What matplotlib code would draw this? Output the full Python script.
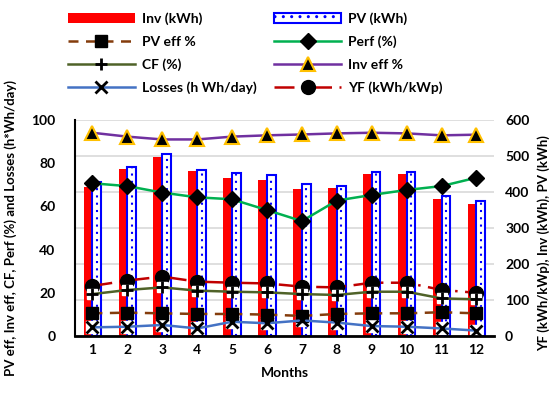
import numpy as np
import matplotlib
matplotlib.use("Agg")
import matplotlib.pyplot as plt
from matplotlib.patches import Patch

plt.rcParams['font.family'] = ['Lato', 'DejaVu Sans']
plt.rcParams['font.weight'] = 'bold'
plt.rcParams['hatch.color'] = 'blue'
plt.rcParams['hatch.linewidth'] = 1.0

# data
months = [1, 2, 3, 4, 5, 6, 7, 8, 9, 10, 11, 12]
inv_kwh = [415, 464, 498, 457, 439, 433, 408, 411, 450, 450, 381, 367]
pv_kwh = [428, 470, 506, 461, 454, 447, 422, 417, 456, 456, 389, 375]
yf = [139, 154, 165, 151, 148, 146, 137, 135, 148, 148, 128, 120]
pv_eff = [10.5, 10.8, 10.5, 10.2, 10.2, 9.9, 9.3, 10.2, 10.5, 10.5, 11.0, 10.5]
perf = [70.7, 69.4, 66.4, 64.2, 63.3, 58.3, 53.2, 62.7, 65.3, 67.6, 69.4, 73.3]
cf = [19.4, 21.3, 22.5, 21.0, 20.5, 20.2, 19.4, 19.0, 20.5, 20.5, 17.4, 17.0]
inv_eff = [94.1, 92.3, 91.0, 91.0, 92.3, 92.9, 93.3, 93.8, 94.1, 93.8, 92.9, 93.2]
losses = [4.0, 4.3, 5.1, 3.5, 6.6, 5.9, 7.2, 6.2, 4.6, 4.3, 3.5, 2.5]

x = np.array(months)
w = 0.25

fig = plt.figure(figsize=(5.55, 4.0), dpi=100)
ax = fig.add_axes([0.135, 0.16, 0.755, 0.54])
ax2 = ax.twinx()
ax.set_zorder(ax2.get_zorder() + 1)
ax.patch.set_visible(False)

# bars on the right axis
ax2.set_axisbelow(True)
ax2.grid(axis='y', color='#d9d9d9', linewidth=1.2)
b1 = ax2.bar(x - w / 2, inv_kwh, w, color='#ff0000', label='Inv (kWh)', zorder=2)
ax2.bar(x + w / 2, pv_kwh, w, facecolor='white', edgecolor='blue',
        linewidth=1.5, zorder=2)
# dotted fill of the PV bars
ax2.vlines(x + w / 2, 0, pv_kwh, colors='blue', linestyles=(0, (1, 2.5)),
           linewidth=1.5, zorder=2.5)
b2 = Patch(facecolor='white', edgecolor='blue', linewidth=1.5, hatch='..', label='PV (kWh)')

l_yf, = ax2.plot(x, yf, color='#c00000', linestyle=(0, (8, 3, 1, 3)), linewidth=1.8,
                 marker='o', markersize=10, markerfacecolor='black',
                 markeredgecolor='black', label='YF (kWh/kWp)', zorder=4)
ax2.set_ylim(0, 600)
ax2.set_yticks(range(0, 601, 100))

# lines on the left axis
l_pveff, = ax.plot(x, pv_eff, color='#843c0c', linestyle=(0, (4, 3)), linewidth=1.8,
                   marker='s', markersize=9, markerfacecolor='black',
                   markeredgecolor='black', label='PV eff %', zorder=3)
l_perf, = ax.plot(x, perf, color='#00b050', linewidth=1.8, marker='D', markersize=8,
                  markerfacecolor='black', markeredgecolor='black', label='Perf (%)', zorder=3)
ax.plot(x, cf, linestyle='none', marker='s', markersize=7, markerfacecolor='white',
        markeredgecolor='white', zorder=2)
l_cf, = ax.plot(x, cf, color='#4f6228', linewidth=1.8, marker='+', markersize=8,
                markeredgewidth=2, markeredgecolor='black', label='CF (%)', zorder=3)
l_inveff, = ax.plot(x, inv_eff, color='#7030a0', linewidth=1.8, marker='^', markersize=10,
                    markerfacecolor='black', markeredgecolor='#ffc000', markeredgewidth=1.5,
                    label='Inv eff %', zorder=3)
ax.plot(x, losses, linestyle='none', marker='s', markersize=9, markerfacecolor='white',
        markeredgecolor='white', zorder=2)
l_loss, = ax.plot(x, losses, color='#4472c4', linewidth=1.8, marker='x', markersize=8,
                  markeredgewidth=2, markeredgecolor='black', label='Losses (h Wh/day)', zorder=3)

ax.set_xlim(0.5, 12.5)
ax.set_ylim(0, 100)
ax.set_yticks(range(0, 101, 20))
ax.set_xticks(months)

for a in (ax, ax2):
    a.tick_params(length=0, labelsize=10, pad=6)
    for s in a.spines.values():
        s.set_visible(False)
ax.spines['left'].set_visible(True)
ax.spines['left'].set_linewidth(1.5)
ax.spines['bottom'].set_visible(True)
ax.spines['bottom'].set_linewidth(2)
ax.tick_params(axis='y', pad=14)
ax2.tick_params(axis='y', pad=8)

ax.set_xlabel('Months', fontsize=10, fontweight='bold', labelpad=8)
ax.set_ylabel('PV eff, Inv eff, CF, Perf (%) and Losses (h*Wh/day)', fontsize=9.5,
              fontweight='bold')
ax.yaxis.set_label_coords(-0.138, 0.5)
ax2.set_ylabel('YF (kWh/kWp), Inv (kWh), PV (kWh)', fontsize=9.5, fontweight='bold')
ax2.yaxis.set_label_coords(1.103, 0.43)

handles = [b1, l_pveff, l_cf, l_loss, b2, l_perf, l_inveff, l_yf]
fig.legend(handles=handles, ncol=2, loc='upper left', bbox_to_anchor=(0.1, 1.0),
           frameon=False, fontsize=10, handlelength=4.8, handletextpad=0.5,
           labelspacing=0.75, columnspacing=1.3)

fig.savefig('out.png', dpi=100)
